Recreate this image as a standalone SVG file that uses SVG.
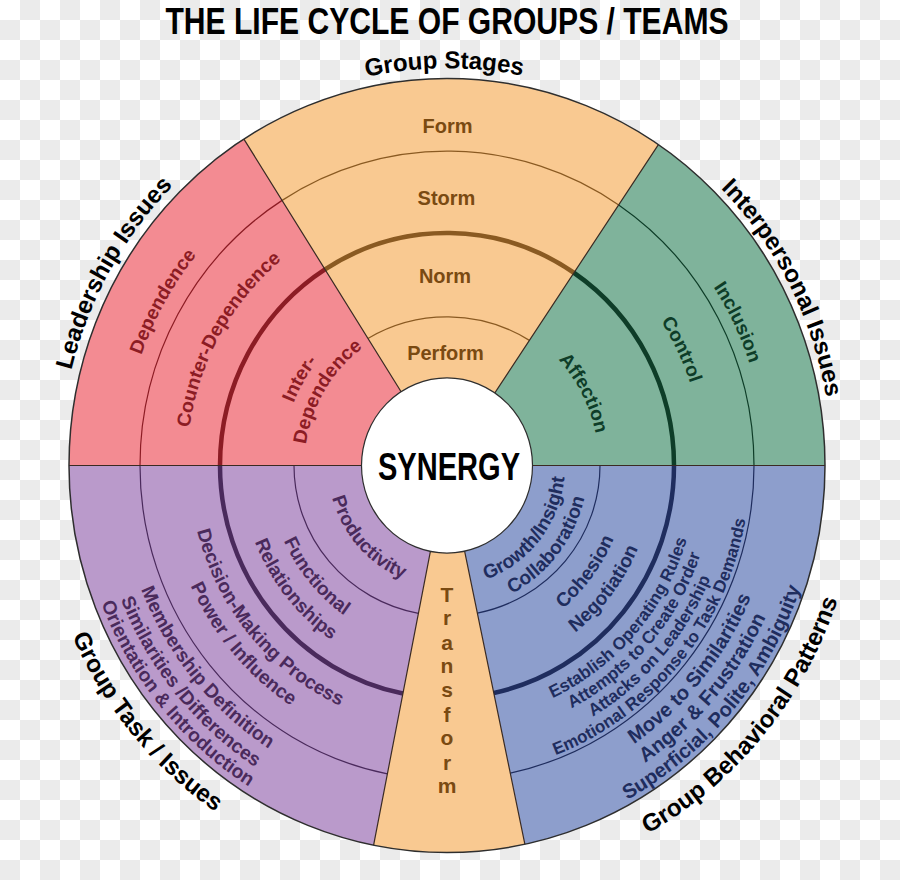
<svg xmlns="http://www.w3.org/2000/svg" width="900" height="880" viewBox="0 0 900 880">
<defs>
<pattern id="checker" width="40" height="40" patternUnits="userSpaceOnUse">
<rect width="40" height="40" fill="#ffffff"/>
<rect x="20" y="0" width="20" height="20" fill="#ebebeb"/>
<rect x="0" y="20" width="20" height="20" fill="#ebebeb"/>
</pattern>
<!-- upper arcs (clockwise, centered at top) -->
<path id="u324" d="M-280.6 -162 A324 324 0 0 1 280.6 -162"/>
<path id="u260" d="M-225.2 -130 A260 260 0 0 1 225.2 -130"/>
<path id="u165" d="M-142.9 -82.5 A165 165 0 0 1 142.9 -82.5"/>
<path id="u142" d="M-123.4 -71.25 A142.5 142.5 0 0 1 123.4 -71.25"/>
<path id="u318" d="M-275.8 -159.25 A318.5 318.5 0 0 1 275.8 -159.25"/>
<path id="u256" d="M-221.7 -128 A256 256 0 0 1 221.7 -128"/>
<path id="u152" d="M-131.6 -76 A152 152 0 0 1 131.6 -76"/>
<path id="u388" d="M-336 -194 A388 388 0 0 1 336 -194"/>
<path id="u387" d="M-335.1 -193.5 A387 387 0 0 1 335.1 -193.5"/>
<path id="u385" d="M-333.4 -192.5 A385 385 0 0 1 333.4 -192.5"/>
<!-- lower arcs (counter-clockwise, centered at bottom) -->
<path id="l119" d="M-103.1 59.5 A119 119 0 0 0 103.1 59.5"/>
<path id="l179" d="M-155 89.5 A179 179 0 0 0 155 89.5"/>
<path id="l206" d="M-178.4 103 A206 206 0 0 0 178.4 103"/>
<path id="l258" d="M-223.4 129 A258 258 0 0 0 223.4 129"/>
<path id="l282" d="M-244.2 141 A282 282 0 0 0 244.2 141"/>
<path id="l329" d="M-284.9 164.5 A329 329 0 0 0 284.9 164.5"/>
<path id="l351" d="M-304.4 175.75 A351.5 351.5 0 0 0 304.4 175.75"/>
<path id="l371" d="M-321.3 185.5 A371 371 0 0 0 321.3 185.5"/>
<path id="l118" d="M-102.2 59 A118 118 0 0 0 102.2 59"/>
<path id="l141" d="M-122.1 70.5 A141 141 0 0 0 122.1 70.5"/>
<path id="l181" d="M-157.2 90.75 A181.5 181.5 0 0 0 157.2 90.75"/>
<path id="l207" d="M-179.7 103.75 A207.5 207.5 0 0 0 179.7 103.75"/>
<path id="l250" d="M-216.9 125.25 A250.5 250.5 0 0 0 216.9 125.25"/>
<path id="l268" d="M-232.1 134 A268 268 0 0 0 232.1 134"/>
<path id="l285" d="M-247.2 142.75 A285.5 285.5 0 0 0 247.2 142.75"/>
<path id="l303" d="M-262.4 151.5 A303 303 0 0 0 262.4 151.5"/>
<path id="l330" d="M-285.8 165 A330 330 0 0 0 285.8 165"/>
<path id="l373" d="M-323 186.5 A373 373 0 0 0 323 186.5"/>
<path id="l410" d="M-355.1 205 A410 410 0 0 0 355.1 205"/>
<path id="l412" d="M-356.8 206 A412 412 0 0 0 356.8 206"/>
</defs>
<style>
text{font-family:"Liberation Sans",Arial,sans-serif;font-weight:bold;}
.mid{text-anchor:middle;}
.t19{font-size:19px;}
.t17{font-size:17px;}
.t20{font-size:20px;}
.lab{font-size:24px;fill:#000;}
.ring{fill:none;}
.thin{stroke-width:1.2;}
.thick{stroke-width:4.5;}
.div{stroke:#3a2a22;stroke-width:1.2;fill:none;}
.or{fill:#f9c991;} .rd{fill:#f38b92;} .gr{fill:#7fb39b;} .bl{fill:#8d9ecc;} .pu{fill:#ba9acb;}
.tor{fill:#7a4a12;} .trd{fill:#8c1c24;} .tgr{fill:#0e3d28;} .tbl{fill:#1f2d5e;} .tpu{fill:#4a2a5c;}
.sor{stroke:#8a5a22;} .srd{stroke:#8c1c24;} .sgr{stroke:#0e3d28;} .sbl{stroke:#1f2d5e;} .spu{stroke:#4a2a5c;}
</style>
<rect id="background" width="900" height="880" fill="url(#checker)"/>
<g id="title">
<text x="447" y="34" class="mid" font-size="37" textLength="563" lengthAdjust="spacingAndGlyphs">THE LIFE CYCLE OF GROUPS / TEAMS</text>
</g>
<g id="wheel" transform="translate(447 465.5) scale(1 1.024)">
<g id="sector-group-stages">
<path class="or" d="M0 0 L-203.1 -318.8 A378 378 0 0 1 211.4 -313.4 Z"/>
<path class="ring thin sor" d="M-164.9 -258.9 A307 307 0 0 1 171.7 -254.5"/>
<path class="ring thick sor" d="M-122 -191.5 A227 227 0 0 1 126.9 -188.2"/>
<path class="ring thin sor" d="M-79.1 -124.1 A153 146 0 0 1 82.4 -122.2"/>
<text class="lab mid" transform="rotate(-0.4)"><textPath href="#u388" startOffset="50%">Group Stages</textPath></text>
</g>
<g id="sector-transform">
<path class="or" d="M0 0 L77.9 369.9 A378 378 0 0 1 -73.4 370.8 Z"/>
</g>
<g id="sector-leadership">
<path class="rd" d="M0 0 L-378 0 A378 378 0 0 1 -203.1 -318.8 Z"/>
<path class="ring thin srd" d="M-307 0 A307 307 0 0 1 -164.9 -258.9"/>
<path class="ring thick srd" d="M-227 0 A227 227 0 0 1 -122 -191.5"/>
<g class="trd t19 mid">
<text transform="rotate(-60.6)"><textPath href="#u324" startOffset="50%">Dependence</textPath></text>
<text transform="rotate(-60.7)"><textPath href="#u260" startOffset="50%">Counter-Dependence</textPath></text>
<text transform="rotate(-60.1)"><textPath href="#u165" startOffset="50%">Inter-</textPath></text>
<text transform="rotate(-59)"><textPath href="#u142" startOffset="50%">Dependence</textPath></text>
</g>
<text class="lab mid" transform="rotate(-60.6)"><textPath href="#u387" startOffset="50%">Leadership Issues</textPath></text>
</g>
<g id="sector-interpersonal">
<path class="gr" d="M0 0 L211.4 -313.4 A378 378 0 0 1 378 0 Z"/>
<path class="ring thin sgr" d="M171.7 -254.5 A307 307 0 0 1 307 0"/>
<path class="ring thick sgr" d="M126.9 -188.2 A227 227 0 0 1 227 0"/>
<g class="tgr t19 mid">
<text transform="rotate(64.3)"><textPath href="#u318" startOffset="50%">Inclusion</textPath></text>
<text transform="rotate(64.2)"><textPath href="#u256" startOffset="50%">Control</textPath></text>
<text transform="rotate(62.7)"><textPath href="#u152" startOffset="50%">Affection</textPath></text>
</g>
<text class="lab mid" transform="rotate(62.7)"><textPath href="#u385" startOffset="50%">Interpersonal Issues</textPath></text>
</g>
<g id="sector-behavioral">
<path class="bl" d="M0 0 L378 0 A378 378 0 0 1 77.9 369.9 Z"/>
<path class="ring thin sbl" d="M307 0 A307 307 0 0 1 63.3 300.4"/>
<path class="ring thick sbl" d="M227 0 A227 227 0 0 1 46.8 222.1"/>
<path class="ring thin sbl" d="M153 0 A153 147 0 0 1 30.4 144.1"/>
<g class="tbl mid">
<text class="t19" transform="rotate(-51.9)"><textPath href="#l118" startOffset="50%">Growth/Insight</textPath></text>
<text class="t19" transform="rotate(-52.2)"><textPath href="#l141" startOffset="50%">Collaboration</textPath></text>
<text class="t19" transform="rotate(-53.2)"><textPath href="#l181" startOffset="50%">Cohesion</textPath></text>
<text class="t19" transform="rotate(-52.6)"><textPath href="#l207" startOffset="50%">Negotiation</textPath></text>
<text class="t17" transform="rotate(-49.1)"><textPath href="#l250" startOffset="50%">Establish Operating Rules</textPath></text>
<text class="t17" transform="rotate(-49.4)"><textPath href="#l268" startOffset="50%">Attempts to Create Order</textPath></text>
<text class="t17" transform="rotate(-49)"><textPath href="#l285" startOffset="50%">Attacks on Leadership</textPath></text>
<text class="t17" transform="rotate(-50.5)"><textPath href="#l303" startOffset="50%">Emotional Response to Task Demands</textPath></text>
<text class="t20" transform="rotate(-50.8)"><textPath href="#l330" startOffset="50%">Move to Similarities</textPath></text>
<text class="t20" transform="rotate(-49.7)"><textPath href="#l351" startOffset="50%">Anger &amp; Frustration</textPath></text>
<text class="t20" transform="rotate(-50.1)"><textPath href="#l373" startOffset="50%">Superficial, Polite, Ambiguity</textPath></text>
</g>
<text class="lab mid" transform="rotate(-50.3)"><textPath href="#l412" startOffset="50%">Group Behavioral Patterns</textPath></text>
</g>
<g id="sector-task">
<path class="pu" d="M0 0 L-73.4 370.8 A378 378 0 0 1 -378 0 Z"/>
<path class="ring thin spu" d="M-59.6 301.2 A307 307 0 0 1 -307 0"/>
<path class="ring thick spu" d="M-44.1 222.7 A227 227 0 0 1 -227 0"/>
<path class="ring thin spu" d="M-28.6 144.4 A153 147 0 0 1 -153 0"/>
<g class="tpu t19 mid">
<text transform="rotate(48.2)"><textPath href="#l119" startOffset="50%">Productivity</textPath></text>
<text transform="rotate(50.4)"><textPath href="#l179" startOffset="50%">Functional</textPath></text>
<text transform="rotate(51.5)"><textPath href="#l206" startOffset="50%">Relationships</textPath></text>
<text transform="rotate(50.1)"><textPath href="#l258" startOffset="50%">Decision-Making Process</textPath></text>
<text transform="rotate(49.5)"><textPath href="#l282" startOffset="50%">Power / Influence</textPath></text>
<text transform="rotate(50.6)"><textPath href="#l329" startOffset="50%">Membership Definition</textPath></text>
<text transform="rotate(50.6)"><textPath href="#l351" startOffset="50%">Similarities /Differences</textPath></text>
<text transform="rotate(50.5)"><textPath href="#l371" startOffset="50%">Orientation &amp; Introduction</textPath></text>
</g>
<text class="lab mid" transform="rotate(50.2)"><textPath href="#l410" startOffset="50%">Group Task / Issues</textPath></text>
</g>
<g id="dividers">
<path class="div" d="M0 0 L-203.1 -318.8 M0 0 L211.4 -313.4 M-378 0 L378 0 M0 0 L77.9 369.9 M0 0 L-73.4 370.8"/>
<circle r="378" fill="none" stroke="#2e2e2e" stroke-width="1.5"/>
</g>
<g id="synergy">
<circle r="85.5" fill="#ffffff" stroke="#2e2e2e" stroke-width="1.2"/>
<text x="2" y="14.2" class="mid" font-size="37" textLength="142" lengthAdjust="spacingAndGlyphs">SYNERGY</text>
</g>
</g>
<g id="stage-labels" class="tor t20 mid">
<text x="447.5" y="133">Form</text>
<text x="446.5" y="205">Storm</text>
<text x="445" y="283">Norm</text>
<text x="445.5" y="360">Perform</text>
</g>
<g id="transform-label" class="tor mid" font-size="21">
<text x="447" y="601.7">T</text>
<text x="447" y="625">r</text>
<text x="447" y="650">a</text>
<text x="447" y="673.3">n</text>
<text x="447" y="696.7">s</text>
<text x="447" y="721.7">f</text>
<text x="447" y="745">o</text>
<text x="447" y="770">r</text>
<text x="447" y="793.3">m</text>
</g>
</svg>
